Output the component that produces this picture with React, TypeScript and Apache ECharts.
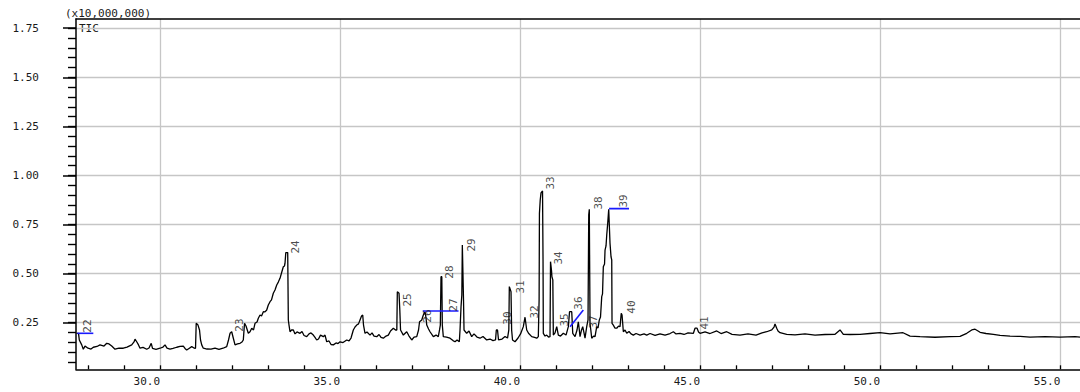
import React, { useEffect, useRef } from "react";
import * as echarts from "echarts";

// ---- axis ranges (minutes / x10,000,000 counts) ----
const X_MIN = 27.667;
const X_MAX = 55.547;
const Y_MIN = 0.0127;
const Y_MAX = 1.797;
const xLabelRange = [30, 55];
const xLabelStep = 5;
const xMinorRange = [28, 55];
const xMinorStep = 1;
const yLabelRange = [0.25, 1.75];
const yLabelStep = 0.25;
const yMinorRange = [0.05, 1.75];
const yMinorStep = 0.05;

const scaleText = "(x10,000,000)";
const traceName = "TIC";

// ---- TIC trace, segment A (27.6 - 33.7 min) ----
const timesA = [
  27.681, 27.737, 27.759, 27.826, 27.870, 27.917, 28.000, 28.084, 28.148, 28.250,
  28.334, 28.445, 28.520, 28.584, 28.659, 28.750, 28.861, 28.981, 29.084, 29.214,
  29.278, 29.306, 29.353, 29.403, 29.445, 29.528, 29.631, 29.695, 29.756, 29.792,
  29.889, 30.000, 30.083, 30.139, 30.194, 30.278, 30.361, 30.464, 30.555, 30.647,
  30.694, 30.741, 30.805, 30.880, 30.944, 30.986, 31.005, 31.055, 31.097, 31.125,
  31.158, 31.202, 31.305, 31.416, 31.527, 31.638, 31.750, 31.852, 31.902, 31.944,
  31.991, 32.036, 32.083, 32.152, 32.222, 32.277, 32.313, 32.347, 32.388, 32.452,
  32.499, 32.547, 32.597, 32.638, 32.694, 32.730, 32.777, 32.819, 32.869, 32.916,
  32.963, 33.007, 33.055, 33.096, 33.146, 33.193, 33.241, 33.285, 33.332, 33.374,
  33.424, 33.457, 33.471, 33.493, 33.546, 33.563, 33.582, 33.610, 33.652, 33.702,
];
const valuesA = [
  0.196, 0.196, 0.162, 0.137, 0.115, 0.131, 0.120, 0.116, 0.125, 0.129,
  0.137, 0.131, 0.145, 0.142, 0.131, 0.115, 0.121, 0.120, 0.126, 0.137,
  0.152, 0.166, 0.153, 0.137, 0.120, 0.124, 0.115, 0.121, 0.145, 0.119,
  0.114, 0.120, 0.126, 0.137, 0.121, 0.115, 0.119, 0.125, 0.129, 0.131,
  0.119, 0.111, 0.119, 0.128, 0.121, 0.120, 0.247, 0.238, 0.213, 0.162,
  0.137, 0.120, 0.116, 0.115, 0.121, 0.114, 0.120, 0.128, 0.162, 0.196,
  0.204, 0.171, 0.137, 0.142, 0.145, 0.152, 0.162, 0.247, 0.233, 0.196,
  0.204, 0.222, 0.213, 0.247, 0.254, 0.273, 0.289, 0.284, 0.306, 0.305,
  0.315, 0.340, 0.357, 0.366, 0.400, 0.417, 0.442, 0.457, 0.476, 0.503,
  0.535, 0.539, 0.553, 0.607, 0.607, 0.264, 0.238, 0.204, 0.213, 0.213,
];

// ---- segment B (33.7 - 38.9 min) ----
const timesB = [
  33.749, 33.804, 33.888, 33.943, 33.999, 34.074, 34.138, 34.193, 34.257, 34.304,
  34.351, 34.401, 34.457, 34.535, 34.582, 34.629, 34.693, 34.749, 34.813, 34.888,
  34.943, 34.999, 35.082, 35.185, 35.249, 35.304, 35.368, 35.415, 35.462, 35.512,
  35.554, 35.596, 35.629, 35.651, 35.693, 35.748, 35.832, 35.887, 35.943, 36.018,
  36.082, 36.137, 36.201, 36.276, 36.340, 36.401, 36.479, 36.540, 36.576, 36.590,
  36.637, 36.659, 36.679, 36.757, 36.851, 36.915, 36.990, 37.054, 37.129, 37.179,
  37.207, 37.268, 37.312, 37.359, 37.387, 37.407, 37.457, 37.498, 37.590, 37.665,
  37.728, 37.762, 37.784, 37.803, 37.825, 37.839, 37.867, 37.956, 38.053, 38.136,
  38.192, 38.248, 38.311, 38.331, 38.359, 38.381, 38.395, 38.414, 38.428, 38.442,
  38.516, 38.580, 38.655, 38.719, 38.802, 38.886,
];
const valuesB = [
  0.193, 0.203, 0.196, 0.205, 0.185, 0.179, 0.193, 0.198, 0.187, 0.175,
  0.162, 0.167, 0.187, 0.179, 0.187, 0.153, 0.157, 0.139, 0.137, 0.147,
  0.144, 0.153, 0.149, 0.162, 0.157, 0.172, 0.213, 0.228, 0.238, 0.244,
  0.264, 0.284, 0.289, 0.238, 0.196, 0.203, 0.187, 0.198, 0.182, 0.179,
  0.190, 0.175, 0.171, 0.182, 0.187, 0.208, 0.222, 0.213, 0.213, 0.408,
  0.400, 0.315, 0.213, 0.187, 0.204, 0.182, 0.162, 0.177, 0.179, 0.213,
  0.255, 0.264, 0.289, 0.306, 0.274, 0.238, 0.218, 0.204, 0.179, 0.187,
  0.179, 0.213, 0.238, 0.484, 0.484, 0.238, 0.179, 0.177, 0.171, 0.159,
  0.153, 0.162, 0.153, 0.213, 0.332, 0.391, 0.646, 0.646, 0.366, 0.213,
  0.196, 0.208, 0.179, 0.193, 0.177, 0.171,
];

// ---- segment C (38.9 - 43.3 min) ----
const timesC = [
  38.969, 39.072, 39.164, 39.247, 39.317, 39.339, 39.372, 39.400, 39.497, 39.581,
  39.650, 39.686, 39.700, 39.719, 39.747, 39.764, 39.789, 39.858, 39.942, 40.011,
  40.089, 40.136, 40.183, 40.233, 40.322, 40.400, 40.461, 40.505, 40.527, 40.536,
  40.558, 40.580, 40.622, 40.636, 40.644, 40.691, 40.738, 40.788, 40.830, 40.844,
  40.872, 40.883, 40.908, 40.922, 40.969, 41.016, 41.061, 41.122, 41.200, 41.275,
  41.339, 41.372, 41.433, 41.461, 41.525, 41.580, 41.616, 41.644, 41.663, 41.705,
  41.738, 41.774, 41.802, 41.849, 41.885, 41.905, 41.921, 41.941, 41.963, 41.988,
  42.038, 42.080, 42.127, 42.163, 42.199, 42.232, 42.266, 42.288, 42.310, 42.344,
  42.358, 42.385, 42.405, 42.432, 42.460, 42.477, 42.496, 42.524, 42.544, 42.552,
  42.588, 42.635, 42.682, 42.732, 42.774, 42.808, 42.830, 42.866, 42.913, 42.960,
  43.024, 43.080, 43.144, 43.219,
];
const valuesC = [
  0.180, 0.162, 0.167, 0.159, 0.162, 0.213, 0.213, 0.162, 0.167, 0.180,
  0.172, 0.213, 0.434, 0.434, 0.408, 0.213, 0.162, 0.153, 0.172, 0.193,
  0.230, 0.278, 0.213, 0.196, 0.179, 0.175, 0.171, 0.179, 0.366, 0.807,
  0.875, 0.911, 0.921, 0.570, 0.196, 0.182, 0.187, 0.177, 0.179, 0.561,
  0.514, 0.484, 0.468, 0.187, 0.198, 0.230, 0.187, 0.182, 0.196, 0.187,
  0.230, 0.306, 0.306, 0.196, 0.179, 0.213, 0.255, 0.213, 0.179, 0.213,
  0.230, 0.198, 0.171, 0.230, 0.264, 0.799, 0.828, 0.247, 0.213, 0.171,
  0.182, 0.179, 0.230, 0.223, 0.264, 0.279, 0.383, 0.397, 0.535, 0.549,
  0.620, 0.641, 0.697, 0.756, 0.828, 0.828, 0.655, 0.586, 0.570, 0.247,
  0.238, 0.222, 0.222, 0.233, 0.230, 0.298, 0.289, 0.204, 0.213, 0.196,
  0.205, 0.193, 0.187, 0.195,
];

// ---- segment D (43.3 - 55.5 min) ----
const timesD = [
  43.330, 43.441, 43.516, 43.608, 43.747, 43.885, 44.024, 44.163, 44.255, 44.330,
  44.441, 44.552, 44.663, 44.811, 44.857, 44.913, 44.954, 44.996, 45.135, 45.274,
  45.460, 45.579, 45.736, 45.884, 46.106, 46.328, 46.550, 46.717, 46.848, 46.987,
  47.050, 47.078, 47.125, 47.161, 47.217, 47.403, 47.634, 47.911, 48.189, 48.467,
  48.745, 48.883, 48.975, 49.161, 49.439, 49.716, 49.994, 50.272, 50.633, 50.827,
  51.105, 51.521, 51.938, 52.216, 52.402, 52.541, 52.633, 52.716, 52.772, 52.938,
  53.141, 53.327, 53.605, 53.883, 54.160, 54.577, 54.993, 55.410, 55.547,
];
const valuesD = [
  0.187, 0.193, 0.187, 0.195, 0.185, 0.193, 0.187, 0.195, 0.204, 0.193,
  0.196, 0.190, 0.198, 0.196, 0.222, 0.222, 0.203, 0.196, 0.203, 0.195,
  0.208, 0.195, 0.204, 0.191, 0.187, 0.193, 0.187, 0.198, 0.204, 0.213,
  0.228, 0.244, 0.222, 0.208, 0.199, 0.191, 0.188, 0.193, 0.187, 0.190,
  0.191, 0.213, 0.191, 0.190, 0.191, 0.195, 0.199, 0.193, 0.199, 0.182,
  0.179, 0.176, 0.179, 0.180, 0.196, 0.213, 0.217, 0.208, 0.201, 0.195,
  0.191, 0.185, 0.182, 0.180, 0.177, 0.179, 0.177, 0.179, 0.177,
];

// ---- peak annotations: id, label anchor time, label anchor level ----
const peakIds = ["22", "23", "24", "25", "26", "27", "28", "29", "30", "31",
  "32", "33", "34", "35", "36", "37", "38", "39", "40", "41"];
const peakLabelTimes = [28.0, 32.194, 33.749, 36.873, 37.415, 38.137, 38.026, 38.636, 39.636, 39.997,
  40.386, 40.83, 41.052, 41.219, 41.608, 42.025, 42.163, 42.858, 43.08, 45.108];
const peakLabelLevels = [0.233, 0.238, 0.636, 0.366, 0.284, 0.34, 0.508, 0.646, 0.274, 0.432,
  0.305, 0.962, 0.58, 0.264, 0.35, 0.254, 0.86, 0.87, 0.33, 0.249];

// ---- integration baselines (blue) ----
const baseStartT = [27.703, 37.295, 41.386, 42.469];
const baseStartV = [0.196, 0.310, 0.230, 0.831];
const baseEndT = [28.148, 38.289, 41.755, 43.024];
const baseEndV = [0.196, 0.310, 0.315, 0.831];

// ---- layout / style ----
const W = 1080;
const H = 392;
const PLOT_LEFT = 76;
const PLOT_TOP = 19;
const PLOT_BOTTOM = 369.3;
const FONT = "'DejaVu Sans Mono', 'Liberation Mono', monospace";
const TEXT_COLOR = "#1a1a1a";
const GRID_COLOR = "#c6c6c6";

const pxX = (t: number) => PLOT_LEFT + ((t - X_MIN) * (W - PLOT_LEFT)) / (X_MAX - X_MIN);
const pxY = (v: number) => PLOT_BOTTOM - ((v - Y_MIN) * (PLOT_BOTTOM - PLOT_TOP)) / (Y_MAX - Y_MIN);

const hiddenAxis = (gridIndex: number) => ({
  gridIndex, type: "value", show: false, min: 0, max: 1,
});

function buildOption() {
  const times = [...timesA, ...timesB, ...timesC, ...timesD];
  const values = [...valuesA, ...valuesB, ...valuesC, ...valuesD];
  const trace = times.map((t, i) => [t, values[i]]);

  const plotH = PLOT_BOTTOM - PLOT_TOP;
  const grids = [
    { left: PLOT_LEFT, top: PLOT_TOP, width: W - PLOT_LEFT, height: plotH, outerBoundsMode: "none" },
    { left: pxX(xLabelRange[0]), top: PLOT_TOP, width: pxX(xLabelRange[1]) - pxX(xLabelRange[0]), height: plotH, outerBoundsMode: "none" },
    { left: pxX(xMinorRange[0]), top: PLOT_TOP, width: pxX(xMinorRange[1]) - pxX(xMinorRange[0]), height: plotH, outerBoundsMode: "none" },
    { left: PLOT_LEFT, top: pxY(yLabelRange[1]), width: W - PLOT_LEFT, height: pxY(yLabelRange[0]) - pxY(yLabelRange[1]), outerBoundsMode: "none" },
    { left: PLOT_LEFT, top: pxY(yMinorRange[1]), width: W - PLOT_LEFT, height: pxY(yMinorRange[0]) - pxY(yMinorRange[1]), outerBoundsMode: "none" },
  ];

  const blackLine = { show: true, onZero: false, lineStyle: { color: "#000", width: 1.5 } };

  const xAxis = [
    { gridIndex: 0, type: "value", min: X_MIN, max: X_MAX, axisLine: blackLine,
      axisTick: { show: false }, axisLabel: { show: false }, splitLine: { show: false } },
    { gridIndex: 0, type: "value", position: "top", min: X_MIN, max: X_MAX, axisLine: blackLine,
      axisTick: { show: false }, axisLabel: { show: false }, splitLine: { show: false } },
    { gridIndex: 1, type: "value", min: xLabelRange[0], max: xLabelRange[1], interval: xLabelStep,
      axisLine: { show: false, onZero: false }, axisTick: { show: false },
      axisLabel: { show: true, formatter: (v: number) => v.toFixed(1), align: "right", margin: 7,
        fontFamily: FONT, fontSize: 11, color: TEXT_COLOR },
      splitLine: { show: true, lineStyle: { color: GRID_COLOR, width: 1.3 } } },
    { gridIndex: 2, type: "value", min: xMinorRange[0], max: xMinorRange[1], interval: xMinorStep,
      axisLine: { show: false, onZero: false },
      axisTick: { show: true, inside: true, length: 4, lineStyle: { color: "#000", width: 1.3 } },
      axisLabel: { show: false }, splitLine: { show: false } },
    hiddenAxis(3),
    hiddenAxis(4),
  ];

  const yAxis = [
    { gridIndex: 0, type: "value", min: Y_MIN, max: Y_MAX, axisLine: blackLine,
      axisTick: { show: false }, axisLabel: { show: false }, splitLine: { show: false } },
    hiddenAxis(1),
    hiddenAxis(2),
    { gridIndex: 3, type: "value", min: yLabelRange[0], max: yLabelRange[1], interval: yLabelStep,
      axisLine: { show: false, onZero: false },
      axisTick: { show: true, inside: false, length: 13, lineStyle: { color: "#000", width: 1.5 } },
      axisLabel: { show: true, formatter: (v: number) => v.toFixed(2), margin: 37,
        fontFamily: FONT, fontSize: 11, color: TEXT_COLOR },
      splitLine: { show: true, lineStyle: { color: GRID_COLOR, width: 1.3 } } },
    { gridIndex: 4, type: "value", min: yMinorRange[0], max: yMinorRange[1], interval: yMinorStep,
      axisLine: { show: false, onZero: false },
      axisTick: { show: true, inside: false, length: 8, lineStyle: { color: "#000", width: 1.4 } },
      axisLabel: { show: false }, splitLine: { show: false } },
  ];

  const baselineSeries = baseStartT.map((t, i) => ({
    type: "line", xAxisIndex: 0, yAxisIndex: 0, symbol: "none", silent: true, z: 4,
    lineStyle: { color: "#1a1aff", width: 1.6 },
    data: [[t, baseStartV[i]], [baseEndT[i], baseEndV[i]]],
  }));

  return {
    animation: false,
    backgroundColor: "#fff",
    grid: grids,
    xAxis,
    yAxis,
    graphic: [
      { type: "text", left: 65, top: 8, style: { text: scaleText, font: `11px ${FONT}`, fill: TEXT_COLOR } },
      { type: "text", left: 79, top: 23, style: { text: traceName, font: `11px ${FONT}`, fill: TEXT_COLOR } },
    ],
    series: [
      { type: "line", name: traceName, xAxisIndex: 0, yAxisIndex: 0, data: trace, symbol: "none",
        silent: true, z: 3, lineStyle: { color: "#000", width: 1.3 } },
      ...baselineSeries,
      { type: "scatter", xAxisIndex: 0, yAxisIndex: 0, symbolSize: 1, silent: true, z: 5,
        itemStyle: { color: "rgba(0,0,0,0)" },
        data: peakIds.map((id, i) => ({ name: id, value: [peakLabelTimes[i], peakLabelLevels[i]] })),
        label: { show: true, position: "inside", rotate: 90, align: "center", verticalAlign: "middle",
          formatter: "{b}", fontFamily: FONT, fontSize: 11, color: TEXT_COLOR } },
    ],
  };
}

export default function App() {
  const ref = useRef<HTMLDivElement>(null);
  useEffect(() => {
    if (!ref.current) return;
    const chart = echarts.init(ref.current, null, { renderer: "svg" });
    chart.setOption(buildOption() as any);
    return () => chart.dispose();
  }, []);
  return (
    <div
      ref={ref}
      style={{ position: "fixed", left: 0, top: 0, width: W, height: H, background: "#fff" }}
    />
  );
}
